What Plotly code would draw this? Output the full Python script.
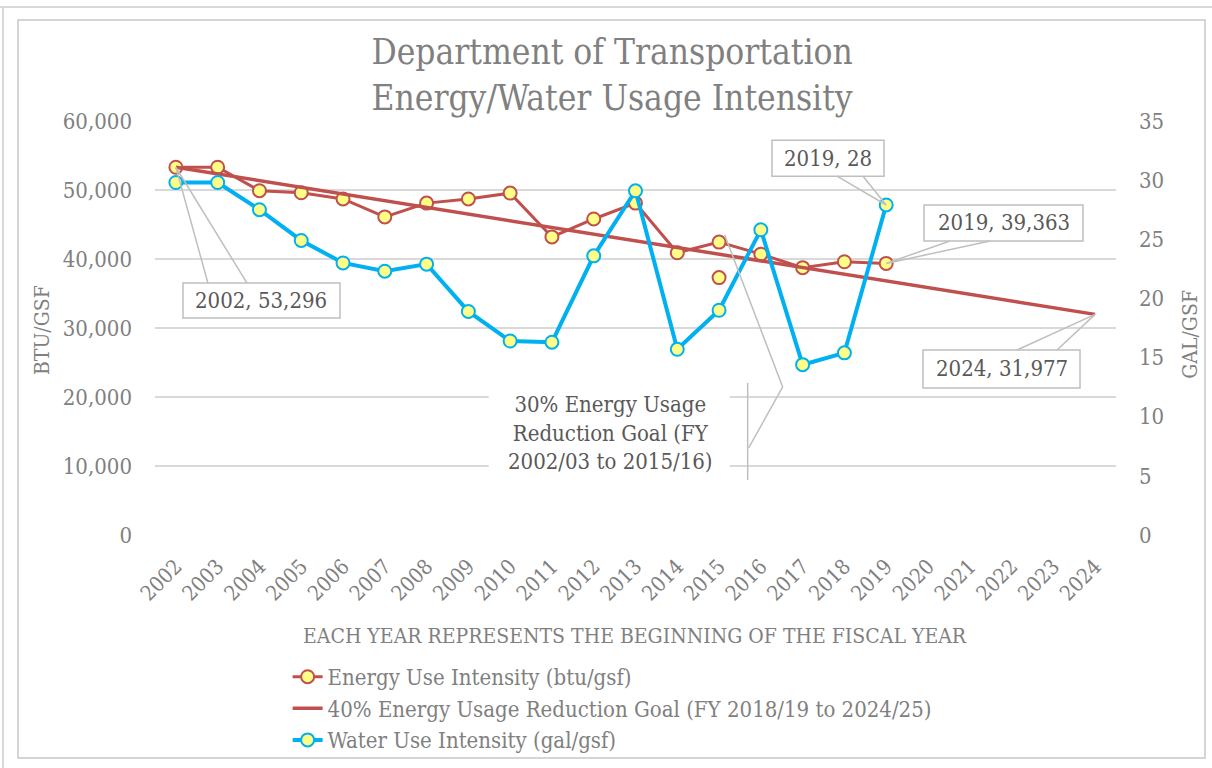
import plotly.graph_objects as go

# ---------------- data ----------------
years_all = [2002, 2003, 2004, 2005, 2006, 2007, 2008, 2009, 2010, 2011, 2012,
             2013, 2014, 2015, 2016, 2017, 2018, 2019, 2020, 2021, 2022, 2023, 2024]
years_obs = [2002, 2003, 2004, 2005, 2006, 2007, 2008, 2009, 2010, 2011, 2012,
             2013, 2014, 2015, 2016, 2017, 2018, 2019]
energy = [53296, 53300, 49900, 49600, 48700, 46100, 48100, 48700, 49550, 43200,
          45800, 48100, 40900, 42450, 40700, 38750, 39600, 39363]
water = [29.8, 29.8, 27.5, 24.9, 23.0, 22.3, 22.9, 18.9, 16.4, 16.3,
         23.6, 29.1, 15.7, 19.0, 25.8, 14.4, 15.4, 27.9]
goal40_years = [2002, 2024]
goal40_values = [53296, 31977]
goal30_years = [2015]
goal30_values = [37307]

RED = "#C0504D"
BLUE = "#00B0F0"
YEL = "#FFFF88"
GRID = "#D9D9D9"
TXT = "#808080"
DARK = "#595959"
FONT = "DejaVu Serif Condensed"

fig = go.Figure()
fig.add_trace(go.Scatter(
    x=years_obs, y=energy, name="Energy Use Intensity (btu/gsf)",
    mode="lines+markers", line=dict(color=RED, width=3),
    marker=dict(size=13, color=YEL, line=dict(color=RED, width=2))))
fig.add_trace(go.Scatter(
    x=goal40_years, y=goal40_values,
    name="40% Energy Usage Reduction Goal (FY 2018/19 to 2024/25)",
    mode="lines", line=dict(color=RED, width=3.5)))
fig.add_trace(go.Scatter(
    x=goal30_years, y=goal30_values, name="30% goal", showlegend=False,
    mode="markers",
    marker=dict(size=13, color=YEL, line=dict(color=RED, width=2))))
fig.add_trace(go.Scatter(
    x=years_obs, y=water, name="Water Use Intensity (gal/gsf)", yaxis="y2",
    mode="lines+markers", line=dict(color=BLUE, width=4),
    marker=dict(size=13, color=YEL, line=dict(color=BLUE, width=2))))

shapes = []
annotations = []


def callout(xa, ya, yref, box, wedge, text, shift):
    # box = (x0, x1, y0, y1) pixel offsets from anchor (y up)
    shapes.append(dict(type="rect", xref="x", yref=yref, xsizemode="pixel",
                       ysizemode="pixel", xanchor=xa, yanchor=ya,
                       x0=box[0], x1=box[1], y0=box[2], y1=box[3],
                       fillcolor="white", line=dict(color="#BFBFBF", width=1.5),
                       layer="above"))
    (ax1, ay1), (ax2, ay2) = wedge
    shapes.append(dict(type="path", xref="x", yref=yref, xsizemode="pixel",
                       ysizemode="pixel", xanchor=xa, yanchor=ya,
                       path=f"M {ax1},{ay1} L 0,0 L {ax2},{ay2}",
                       line=dict(color="#BFBFBF", width=1.5), layer="above"))
    annotations.append(dict(x=xa, y=ya, xref="x", yref=yref, text=text,
                            showarrow=False, xshift=shift[0], yshift=shift[1],
                            xanchor="center", yanchor="middle",
                            font=dict(family=FONT, size=22, color=DARK)))


callout(years_obs[0], energy[0], "y", (7.1, 164.1, -115.7, -150.7),
        ((32, -115.7), (71, -115.7)), f"{years_obs[0]}, {energy[0]:,}", (85.6, -133.2))
callout(years_obs[-1], water[-1], "y2", (-114.2, -2.2, 64.8, 28.8),
        ((-49.2, 28.8), (-23.2, 28.8)), f"{years_obs[-1]}, {round(water[-1])}", (-58.2, 46.8))
callout(years_obs[-1], energy[-1], "y", (37.8, 196.8, 58.4, 22.4),
        ((63.8, 22.4), (103.8, 22.4)), f"{years_obs[-1]}, {energy[-1]:,}", (117.3, 40.4))
callout(goal40_years[-1], goal40_values[-1], "y", (-172.1, -15.1, -35.6, -73.6),
        ((-78.1, -35.6), (-38.1, -35.6)), f"{goal40_years[-1]}, {goal40_values[-1]:,}", (-93.6, -54.6))

# 30% goal callout (accent-bar style, no border)
gx, gy = goal30_years[0], goal30_values[0]
shapes.append(dict(type="rect", xref="x", yref="y", xsizemode="pixel", ysizemode="pixel",
                   xanchor=gx, yanchor=gy, x0=-230.4, x1=10.6, y0=-102.4, y1=-202.4,
                   fillcolor="white", line=dict(width=0), layer="above"))
shapes.append(dict(type="path", xref="x", yref="y", xsizemode="pixel", ysizemode="pixel",
                   xanchor=gx, yanchor=gy, path="M 28.6,-105.4 L 28.6,-202.4",
                   line=dict(color="#BFBFBF", width=1.5), layer="above"))
shapes.append(dict(type="path", xref="x", yref="y", xsizemode="pixel", ysizemode="pixel",
                   xanchor=gx, yanchor=gy, path="M 5.6,42.6 L 63.6,-109.4 L 29.6,-170.4",
                   line=dict(color="#BFBFBF", width=1.5), layer="above"))
annotations.append(dict(x=gx, y=gy, xref="x", yref="y",
                        text="30% Energy Usage<br>Reduction Goal (FY<br>2002/03 to 2015/16)",
                        showarrow=False, xshift=-108.4, yshift=-155.4,
                        xanchor="center", yanchor="middle", align="center",
                        font=dict(family=FONT, size=22, color=DARK)))

# axis titles
annotations.append(dict(x=-0.1176, y=0.495, xref="paper", yref="paper", text="BTU/GSF",
                        textangle=-90, showarrow=False, xanchor="center", yanchor="middle",
                        font=dict(family=FONT, size=21, color=TXT)))
annotations.append(dict(x=1.077, y=0.486, xref="paper", yref="paper", text="GAL/GSF",
                        textangle=-90, showarrow=False, xanchor="center", yanchor="middle",
                        font=dict(family=FONT, size=21, color=TXT)))
annotations.append(dict(x=0.4995, y=-0.244, xref="paper", yref="paper",
                        text="EACH YEAR REPRESENTS THE BEGINNING OF THE FISCAL YEAR",
                        showarrow=False, xanchor="center", yanchor="middle",
                        font=dict(family=FONT, size=21, color=TXT)))

# chart frame
shapes.append(dict(type="line", xref="paper", yref="paper", x0=-0.17, x1=1.12,
                   y0=1.27536, y1=1.27536, line=dict(color="#D9D9D9", width=2), layer="below"))
shapes.append(dict(type="line", xref="paper", yref="paper", x0=-0.1582, x1=-0.1582,
                   y0=1.27536, y1=-0.58, line=dict(color="#D9D9D9", width=2), layer="below"))
shapes.append(dict(type="rect", xref="paper", yref="paper", x0=-0.14256, x1=1.09261,
                   y0=1.24396, y1=-0.53865, line=dict(color="#C8C8C8", width=1.5),
                   fillcolor="rgba(0,0,0,0)", layer="below"))

fig.update_layout(
    width=1212, height=768,
    margin=dict(l=155, r=96, t=121, b=233, autoexpand=False),
    paper_bgcolor="white", plot_bgcolor="white",
    font=dict(family=FONT, color=TXT),
    title=dict(text="Department of Transportation<br>Energy/Water Usage Intensity",
               x=0.505, xref="container", xanchor="center",
               y=1 - 64 / 768, yref="container", yanchor="top",
               font=dict(family=FONT, size=35, color=TXT)),
    xaxis=dict(range=[2001.5, 2024.5], tickmode="array", tickvals=years_all,
               ticktext=[str(y) for y in years_all], tickangle=-45,
               showgrid=False, zeroline=False, showline=False, ticks="",
               ticklabelstandoff=14, automargin=False,
               tickfont=dict(family=FONT, size=21, color=TXT)),
    yaxis=dict(range=[0, 60000], dtick=10000, tickformat=",", showgrid=True,
               gridcolor=GRID, gridwidth=1.5, zeroline=False, showline=False,
               ticks="", ticklabelstandoff=22, automargin=False,
               tickfont=dict(family=FONT, size=22, color=TXT)),
    yaxis2=dict(range=[0, 35], dtick=5, overlaying="y", side="right", showgrid=False,
                zeroline=False, showline=False, ticks="", ticklabelstandoff=22,
                automargin=False,
                tickfont=dict(family=FONT, size=22, color=TXT)),
    legend=dict(x=0.138, y=-0.292, xanchor="left", yanchor="top",
                font=dict(family=FONT, size=22, color=TXT),
                bgcolor="rgba(0,0,0,0)", tracegroupgap=0),
    shapes=shapes, annotations=annotations,
    showlegend=True,
)

fig.write_html("out.html", config={"displayModeBar": False},
               post_script="document.body.style.margin='0';document.body.style.overflow='hidden';")
